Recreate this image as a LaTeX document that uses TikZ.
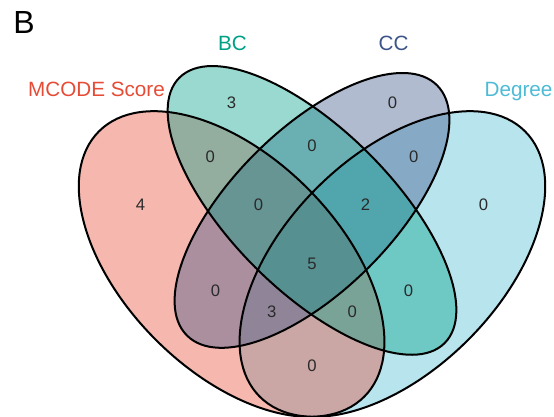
\documentclass[tikz,border=0pt]{standalone}
\usepackage{fontspec}
\setmainfont{Liberation Sans}
\definecolor{cMC}{HTML}{E64B35}
\definecolor{cBC}{HTML}{00A087}
\definecolor{cCC}{HTML}{3C5488}
\definecolor{cDG}{HTML}{4DBBD5}
\definecolor{numc}{HTML}{2A2A2A}
\tikzset{
  vfill/.style={fill=#1, fill opacity=0.4, draw=none},
  vline/.style={draw=black, line width=1.5pt, fill=none},
  num/.style={text=numc, font=\fontsize{12.5}{14}\selectfont, inner sep=0pt},
  catlab/.style={text=#1, font=\fontsize{15.5}{18}\selectfont, anchor=base, inner sep=0pt}
}
\begin{document}
\begin{tikzpicture}[x=402pt,y=402pt]
\useasboundingbox (-0.08209,0.18642) rectangle (0.95149,0.96254);
% fills (drawing order: Degree, MCODE, CC, BC)
\path[vfill=cDG, rotate around={45:(0.65,0.47)}] (0.65,0.47) ellipse [x radius=0.35, y radius=0.20];
\path[vfill=cMC, rotate around={135:(0.35,0.47)}] (0.35,0.47) ellipse [x radius=0.35, y radius=0.20];
\path[vfill=cCC, rotate around={45:(0.50,0.57)}] (0.50,0.57) ellipse [x radius=0.33, y radius=0.15];
\path[vfill=cBC, rotate around={135:(0.50,0.57)}] (0.50,0.57) ellipse [x radius=0.35, y radius=0.15];
% outlines
\path[vline, rotate around={45:(0.65,0.47)}] (0.65,0.47) ellipse [x radius=0.35, y radius=0.20];
\path[vline, rotate around={135:(0.35,0.47)}] (0.35,0.47) ellipse [x radius=0.35, y radius=0.20];
\path[vline, rotate around={45:(0.50,0.57)}] (0.50,0.57) ellipse [x radius=0.33, y radius=0.15];
\path[vline, rotate around={135:(0.50,0.57)}] (0.50,0.57) ellipse [x radius=0.35, y radius=0.15];
% region counts
\node[num] (n1) at (0.350,0.77) {3};
\node[num] (n2) at (0.500,0.69) {0};
\node[num] (n3) at (0.650,0.77) {0};
\node[num] (n4) at (0.310,0.67) {0};
\node[num] (n5) at (0.400,0.58) {0};
\node[num] (n6) at (0.500,0.47) {5};
\node[num] (n7) at (0.600,0.58) {2};
\node[num] (n8) at (0.690,0.67) {0};
\node[num] (n9) at (0.180,0.58) {4};
\node[num] (n10) at (0.320,0.42) {0};
\node[num] (n11) at (0.425,0.38) {3};
\node[num] (n12) at (0.575,0.38) {0};
\node[num] (n13) at (0.680,0.42) {0};
\node[num] (n14) at (0.820,0.58) {0};
\node[num] (n15) at (0.500,0.28) {0};
% category labels
\node[catlab=cMC] (lmc) at (0.0979,0.7816) {MCODE Score};
\node[catlab=cBC] (lbc) at (0.3517,0.8674) {BC};
\node[catlab=cCC] (lcc) at (0.6521,0.8674) {CC};
\node[catlab=cDG] (ldg) at (0.8853,0.7816) {Degree};
\node[anchor=base, inner sep=0pt, font=\fontsize{24}{27}\selectfont] (panel) at (-0.0373,0.9009) {B};
\end{tikzpicture}
\end{document}
